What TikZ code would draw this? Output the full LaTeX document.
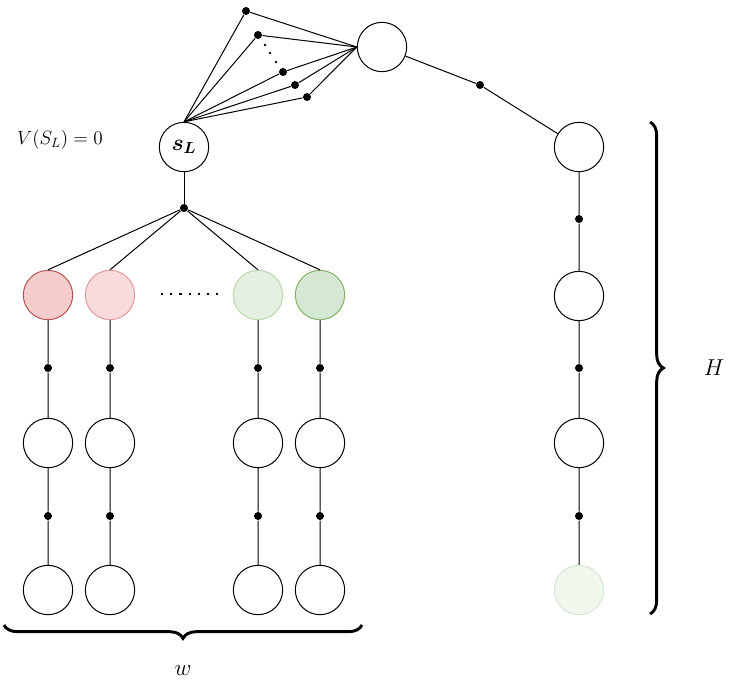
\documentclass[tikz,border=0pt]{standalone}
\usepackage{amsmath,bm}
\usetikzlibrary{positioning, calc, decorations.pathreplacing}
\definecolor{redA}{HTML}{F4CCCC}\definecolor{redAd}{HTML}{B85450}
\definecolor{redB}{HTML}{FADBDB}\definecolor{redBd}{HTML}{E39C9C}
\definecolor{grnA}{HTML}{E5F0E2}\definecolor{grnAd}{HTML}{B9D9A9}
\definecolor{grnB}{HTML}{D5E8D4}\definecolor{grnBd}{HTML}{82B366}
\definecolor{grnC}{HTML}{F0F8EE}\definecolor{grnCd}{HTML}{D5E8D4}
\tikzset{state/.style={circle,draw,minimum size=37pt,inner sep=0pt},
  chance/.style={circle,fill,inner sep=0pt,minimum size=6pt}}
\begin{document}
\begin{tikzpicture}[x=0.75pt,y=-0.75pt,line width=0.75pt]
\useasboundingbox (0,0) rectangle (748,693);
\node[state] (top) at (382,47) {};
\node[state] (sl) at (184,147) {\LARGE$\bm{s_L}$};
\node (vsl) at (60,140) {\Large$V(S_L)=0$};
% fan between s_L and top
\foreach \i/\p in {1/{246,11},2/{258,35},3/{283,72},4/{295,85},5/{307,97}} {
  \node[chance] (f\i) at (\p) {};
  \draw (sl.north) -- (f\i) -- (top.west);
}
\foreach \p in {{265,45},{270,53},{276,62}} \fill (\p) circle (1pt);
% right column
\node[chance] (rt) at (480,85) {};
\node[state] (r1) at (579,147) {};
\node[state] (r2) at (579,296) {};
\node[state] (r3) at (579,443) {};
\node[state,fill=grnC,draw=grnCd] (r4) at (579,590) {};
\node[chance] (rc1) at (579,219) {};
\node[chance] (rc2) at (579,368) {};
\node[chance] (rc3) at (579,516) {};
\draw (top) -- (rt) -- (r1) -- (rc1) -- (r2) -- (rc2) -- (r3) -- (rc3) -- (r4);
% left columns
\node[chance] (sc) at (184,208) {};
\draw (sl) -- (sc);
\foreach \n/\x/\f/\d in {a/48/redA/redAd,b/110/redB/redBd,c/258/grnA/grnAd,d/320/grnB/grnBd} {
  \node[state,fill=\f,draw=\d] (\n1) at (\x,295) {};
  \node[chance] (\n c1) at (\x,368) {};
  \node[state] (\n2) at (\x,443) {};
  \node[chance] (\n c2) at (\x,516) {};
  \node[state] (\n3) at (\x,590) {};
  \draw (sc) -- (\n1.north) (\n1) -- (\n c1) -- (\n2) -- (\n c2) -- (\n3);
}
\draw[line width=1.6pt,dash pattern=on 1.6pt off 5.3pt] (161,294) -- (224,294);
% braces
\draw[line width=2.2pt,decorate,decoration={brace,amplitude=10pt}] (650,122) -- node[right=36pt] (hl) {\LARGE$H$} (650,614);
\draw[line width=2.2pt,decorate,decoration={brace,amplitude=10pt,mirror}] (4,625) -- node[below=26pt] (wl) {\LARGE$w$} (362,625);
\end{tikzpicture}
\end{document}
